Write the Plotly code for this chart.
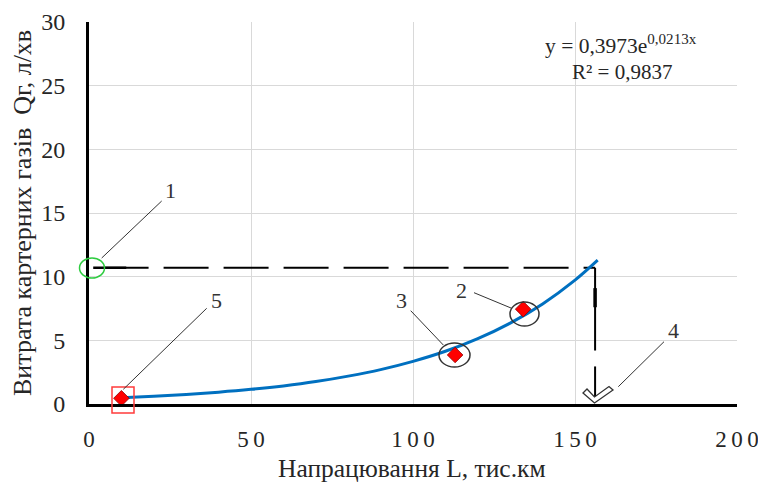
import plotly.graph_objects as go

# ---------------- data ----------------
exp_L = [10, 113, 134]                 # experimental points, thousand km
exp_Q = [0.45, 3.85, 7.45]             # crankcase gas flow, l/min
trend_L = [10, 20, 30, 40, 50, 60, 70, 80, 90, 100, 110, 120, 130, 140, 150, 157]
trend_Q = [0.49, 0.61, 0.75, 0.93, 1.15, 1.42, 1.76, 2.19, 2.70, 3.35, 4.14, 5.13,
           6.35, 7.86, 9.73, 11.3]
limit_Q = 10.7                          # limit flow (point 1)
limit_L = 156.2                         # resulting mileage (point 4)
x_ticks = [0, 50, 100, 150, 200]
y_ticks = [0, 5, 10, 15, 20, 25, 30]
callout_labels = ["1", "2", "3", "4", "5"]
equation = "y = 0,3973e<sup>0,0213x</sup>"
r2_text = "R² = 0,9837"
x_title = "Напрацювання L, тис.км"
y_title = "Витрата картерних газів  Qг, л/хв"

# ---------------- layout geometry ----------------
W, H = 758, 484
ML, MT, PW, PH = 89, 22, 648, 382
MR = W - ML - PW
MB = H - MT - PH
FONT = "Liberation Serif"
TXT = "#262626"


def px(x):
    return (x - ML) / PW


def py(y):
    return (MT + PH - y) / PH


fig = go.Figure()

# reading lines (nomogram)
fig.add_trace(go.Scatter(x=[4.5, limit_L], y=[limit_Q, limit_Q], mode="lines",
                         line=dict(color="black", width=2, dash="45px,15px"),
                         hoverinfo="skip", showlegend=False))
fig.add_trace(go.Scatter(x=[1.3, 11.5], y=[limit_Q, limit_Q], mode="lines",
                         line=dict(color="black", width=2.5),
                         hoverinfo="skip", showlegend=False))
fig.add_trace(go.Scatter(x=[limit_L, limit_L], y=[limit_Q, 4.2], mode="lines",
                         line=dict(color="black", width=2),
                         hoverinfo="skip", showlegend=False))
fig.add_trace(go.Scatter(x=[limit_L, limit_L], y=[9.1, 7.6], mode="lines",
                         line=dict(color="black", width=3.5),
                         hoverinfo="skip", showlegend=False))
fig.add_trace(go.Scatter(x=[limit_L, limit_L], y=[2.95, 0.35], mode="lines",
                         line=dict(color="black", width=2),
                         hoverinfo="skip", showlegend=False))

# trend curve
fig.add_trace(go.Scatter(x=trend_L, y=trend_Q, mode="lines",
                         line=dict(color="#0070C0", width=3, shape="spline"),
                         showlegend=False))
# experimental points
fig.add_trace(go.Scatter(x=exp_L, y=exp_Q, mode="markers",
                         marker=dict(symbol="diamond", size=12, color="#FF0000",
                                     line=dict(color="#8B0000", width=0.8)),
                         cliponaxis=False, showlegend=False))

shapes = []
# highlight rings
rings = [
    (79.5, 258, 104.5, 278, "#2ECC40", "circle"),
    (112, 387, 134, 413, "#FF3B3B", "rect"),
    (439, 343, 470, 367, "#333333", "circle"),
    (510, 302, 539, 326, "#333333", "circle"),
]
for x0, y0, x1, y1, col, kind in rings:
    shapes.append(dict(type=kind, xref="paper", yref="paper",
                       x0=px(x0), x1=px(x1), y0=py(y1), y1=py(y0),
                       line=dict(color=col, width=1.5)))

# leader lines
leaders = [
    (161.7, 201, 101.7, 258),
    (474, 292.7, 511.7, 308.3),
    (410.7, 310.7, 443.3, 345),
    (664, 341.7, 618.3, 386.7),
    (206.7, 308.3, 123.3, 389.3),
]
for x0, y0, x1, y1 in leaders:
    shapes.append(dict(type="line", xref="paper", yref="paper",
                       x0=px(x0), y0=py(y0), x1=px(x1), y1=py(y1),
                       line=dict(color="#333333", width=1)))

# hollow chevron arrow head (point 4)
chev = [(583, 393), (594.5, 403), (613, 390), (609, 386.5), (594.5, 397), (587, 389)]
path = "M " + " L ".join(f"{px(a):.5f},{py(b):.5f}" for a, b in chev) + " Z"
shapes.append(dict(type="path", xref="paper", yref="paper", path=path,
                   fillcolor="white", line=dict(color="#333333", width=1.3)))

annotations = []
label_pos = [(170.5, 190), (461.7, 290), (401.7, 300), (673.3, 330), (216.7, 300)]
for lab, (lx, ly) in zip(callout_labels, label_pos):
    annotations.append(dict(text=lab, xref="paper", yref="paper", x=px(lx), y=py(ly),
                            showarrow=False, xanchor="center", yanchor="middle",
                            font=dict(family=FONT, size=22, color="#333333")))
annotations.append(dict(text=equation, xref="paper", yref="paper", x=px(621), y=py(45),
                        showarrow=False, xanchor="center", yanchor="middle",
                        font=dict(family=FONT, size=21.5, color=TXT)))
annotations.append(dict(text=r2_text, xref="paper", yref="paper", x=px(622), y=py(72),
                        showarrow=False, xanchor="center", yanchor="middle",
                        font=dict(family=FONT, size=21, color=TXT)))
annotations.append(dict(text=x_title, xref="paper", yref="paper", x=px(412), y=py(468),
                        showarrow=False, xanchor="center", yanchor="middle",
                        font=dict(family=FONT, size=25.5, color=TXT)))
annotations.append(dict(text=y_title, xref="paper", yref="paper", x=px(22), y=py(213),
                        showarrow=False, xanchor="center", yanchor="middle", textangle=-90,
                        font=dict(family=FONT, size=26, color=TXT)))

fig.update_layout(
    width=W, height=H,
    margin=dict(l=ML, r=MR, t=MT, b=MB, pad=0),
    paper_bgcolor="white", plot_bgcolor="white",
    shapes=shapes, annotations=annotations,
    xaxis=dict(range=[0, 200], tickvals=x_ticks,
               ticktext=["\u2009".join(str(v)) for v in x_ticks],
               showgrid=True, gridcolor="#D9D9D9", gridwidth=1, zeroline=False,
               showline=True, linecolor="black", linewidth=3, ticks="",
               ticklabelstandoff=12, automargin=False, ticklabeloverflow="allow",
               tickfont=dict(family=FONT, size=23, color=TXT), fixedrange=True),
    yaxis=dict(range=[0, 30], tickvals=y_ticks,
               showgrid=True, gridcolor="#D9D9D9", gridwidth=1, zeroline=False,
               showline=True, linecolor="black", linewidth=3, ticks="",
               ticklabelstandoff=16, automargin=False,
               tickfont=dict(family=FONT, size=24, color=TXT), fixedrange=True),
    showlegend=False,
)

fig.write_html("out.html", config={"displayModeBar": False},
               post_script="document.body.style.margin='0';"
                           "document.body.style.overflow='hidden';")
